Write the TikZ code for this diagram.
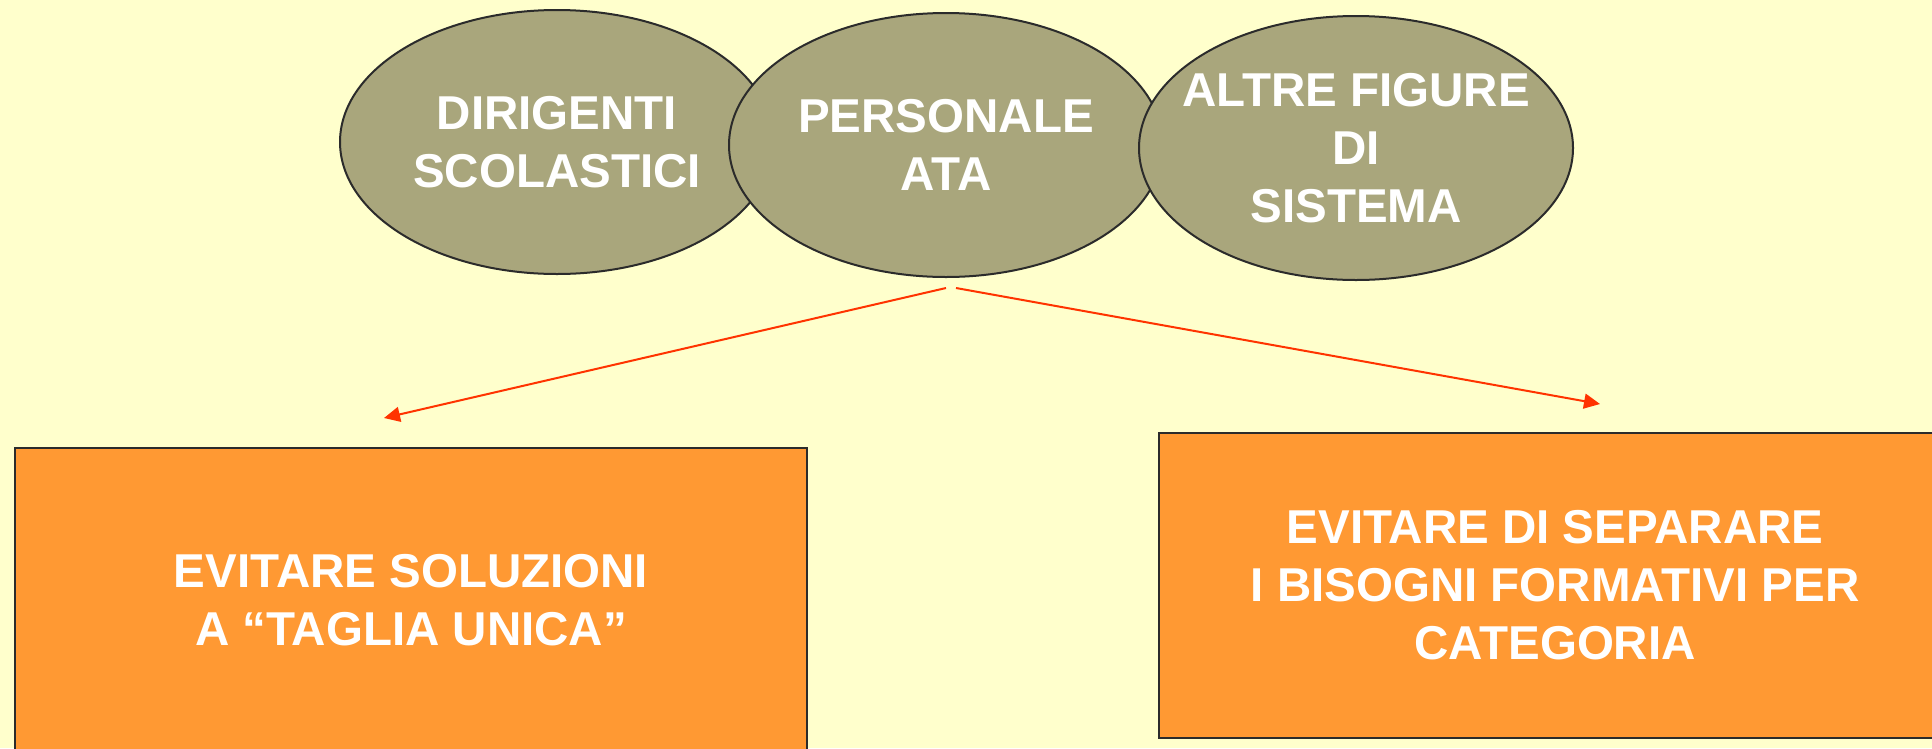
\documentclass[tikz,border=0pt]{standalone}
\usepackage{fontspec}
\setmainfont{Liberation Sans}
\usetikzlibrary{shapes.geometric,arrows.meta}
\definecolor{bgyellow}{HTML}{FFFFCC}
\definecolor{khaki}{HTML}{A9A67C}
\definecolor{boxorange}{HTML}{FF9933}
\definecolor{arrowred}{HTML}{FF3300}
\definecolor{edge}{HTML}{2B2B2B}
\tikzset{
  txt/.style={text=white,font=\bfseries\fontsize{47.5}{58}\selectfont,align=center},
  oval/.style={ellipse,draw=edge,line width=2pt,fill=khaki,minimum width=434pt,minimum height=264pt,inner sep=0pt},
  panel/.style={rectangle,draw=edge,line width=2pt,fill=boxorange,minimum width=792pt,minimum height=305pt,inner sep=0pt,txt},
  link/.style={draw=arrowred,line width=2pt,-{Triangle[length=16pt,width=15pt]}}
}
\begin{document}
\begin{tikzpicture}[x=1pt,y=-1pt]
\useasboundingbox (0,0) rectangle (1932,748);
\fill[bgyellow] (0,0) rectangle (1932,748);
\clip (0,0) rectangle (1932,748);
\node[oval,label={[txt]center:DIRIGENTI\\SCOLASTICI}] (dir) at (557,142) {};
\node[oval,label={[txt]center:PERSONALE\\ATA}] (ata) at (946,145) {};
\node[oval,label={[txt]center:ALTRE FIGURE\\DI\\SISTEMA}] (alt) at (1356,148) {};
\node[panel] (sol) at (411,600) {EVITARE SOLUZIONI\\A “TAGLIA UNICA”};
\node[panel] (sep) at (1555,585) {EVITARE DI SEPARARE\\I BISOGNI FORMATIVI PER\\CATEGORIA};
\coordinate (s1) at (946,288);
\coordinate (s2) at (956,288);
\coordinate (t1) at (384,418);
\coordinate (t2) at (1600,404);
\draw[link] (s1) -- (t1);
\draw[link] (s2) -- (t2);
\end{tikzpicture}
\end{document}
